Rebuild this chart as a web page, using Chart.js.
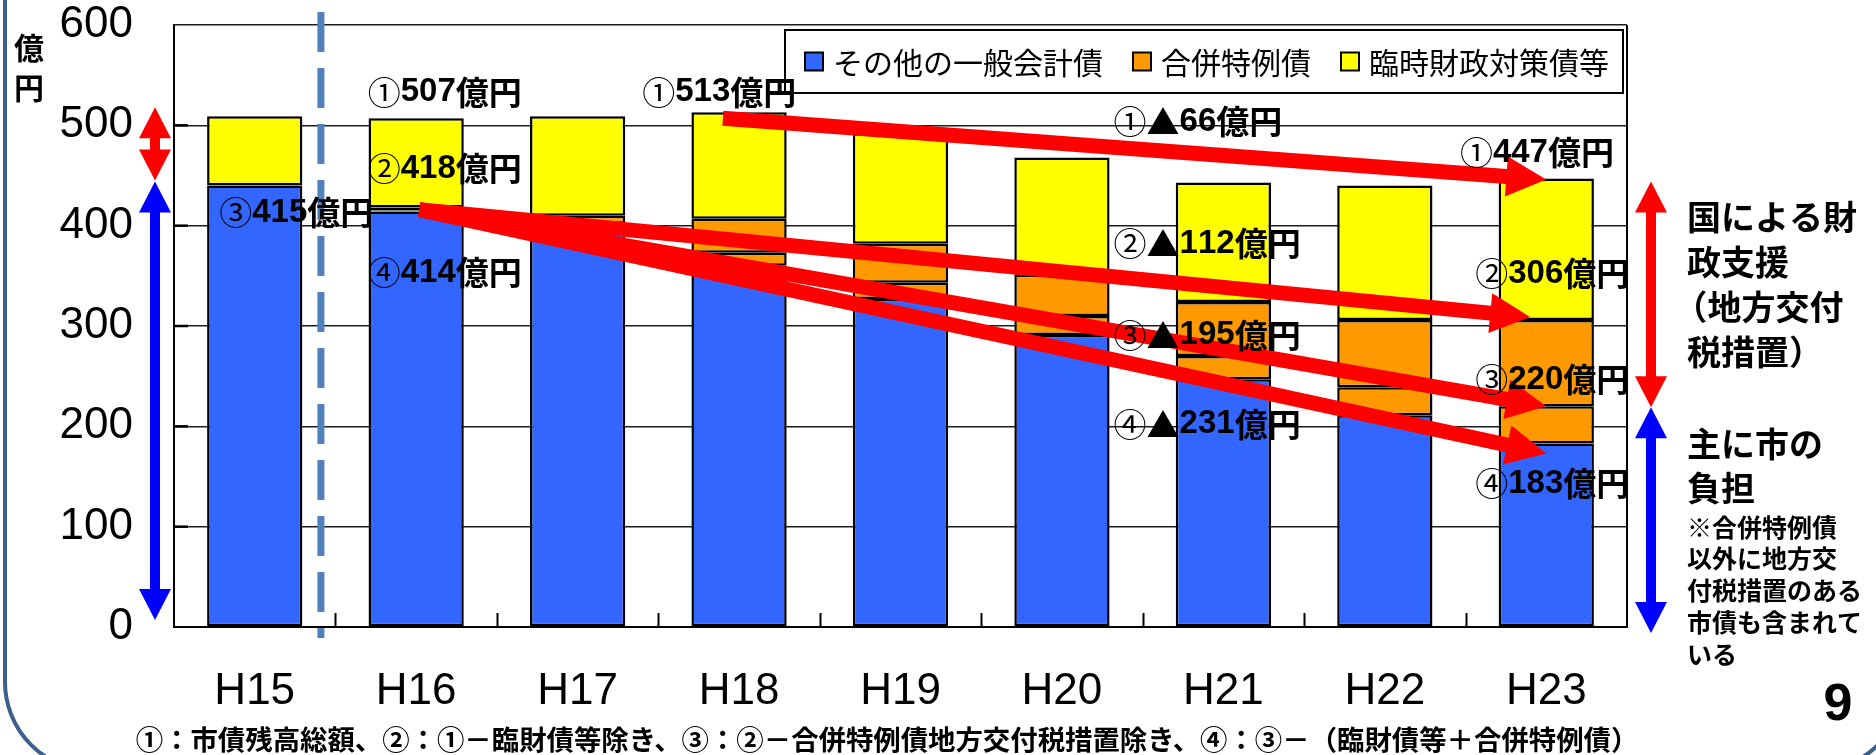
<!DOCTYPE html>
<html lang="ja">
<head>
<meta charset="utf-8">
<title>市債残高の推移</title>
<script src="https://cdn.jsdelivr.net/npm/chart.js@4.4.1/dist/chart.umd.min.js"></script>
<style>
  html, body { margin: 0; padding: 0; background: #fff; overflow: hidden; }
  canvas { display: block; }
</style>
</head>
<body>
<canvas id="debtChart" width="1876" height="755"></canvas>
<script>
// 年度
const categories = ['H15', 'H16', 'H17', 'H18', 'H19', 'H20', 'H21', 'H22', 'H23'];
// ① 市債残高総額（億円）
const totalDebt = [509, 507, 509, 513, 492, 468, 443, 440, 447];
// ② ①－臨財債等
const excludingTemp = [440, 418, 410, 407, 382, 351, 324, 306, 306];
// ③ ②－合併特例債の地方交付税措置分
const excludingAllocated = [440, 415, 402, 373, 343, 310, 270, 239, 220];
// ④ ③－（臨財債等＋合併特例債）
const ownBurden = [440, 414, 398, 360, 327, 291, 247, 211, 183];
// 目盛
const yTicks = [0, 100, 200, 300, 400, 500, 600];

// 積み上げ区分
const otherDebt = ownBurden.slice();
const mergerOwnPart = excludingAllocated.map((v, i) => v - ownBurden[i]);
const mergerAllocatedPart = excludingTemp.map((v, i) => v - excludingAllocated[i]);
const tempFiscalDebt = totalDebt.map((v, i) => v - excludingTemp[i]);

const JP = '"Noto Sans CJK JP", "Noto Sans CJK SC", sans-serif';
const LATIN = '"Liberation Sans", Arial, sans-serif';

// 値ラベル（x は年度の位置、y は億円の位置）
const valueLabels = [
  { text: '①' + totalDebt[1] + '億円', x: 0.70, y: 533 },
  { text: '①' + totalDebt[3] + '億円', x: 2.40, y: 533 },
  { text: '②' + excludingTemp[1] + '億円', x: 0.70, y: 457 },
  { text: '③' + excludingAllocated[1] + '億円', x: -0.22, y: 413 },
  { text: '④' + ownBurden[1] + '億円', x: 0.70, y: 353 },
  { text: '①▲' + (totalDebt[3] - totalDebt[8]) + '億円', x: 5.32, y: 503.5 },
  { text: '②▲' + (excludingTemp[1] - excludingTemp[8]) + '億円', x: 5.32, y: 382 },
  { text: '③▲' + (excludingAllocated[1] - excludingAllocated[8]) + '億円', x: 5.32, y: 291 },
  { text: '④▲' + (ownBurden[1] - ownBurden[8]) + '億円', x: 5.32, y: 202 },
  { text: '①' + totalDebt[8] + '億円', x: 7.465, y: 472.5 },
  { text: '②' + excludingTemp[8] + '億円', x: 7.56, y: 352 },
  { text: '③' + excludingAllocated[8] + '億円', x: 7.56, y: 246.5 },
  { text: '④' + ownBurden[8] + '億円', x: 7.56, y: 143 }
];

// 減少を示す赤矢印
const trendArrows = [
  { from: [2.9, totalDebt[3] - 6], to: [8, totalDebt[8] - 1] },
  { from: [1.02, excludingAllocated[1] + 1], to: [7.9, excludingTemp[8] + 3] },
  { from: [1.02, excludingAllocated[1] + 1], to: [8, excludingAllocated[8]] },
  { from: [1.02, excludingAllocated[1] + 1], to: [8, ownBurden[8] - 10] }
];

// 軸の外側の両矢印（区間は億円）
const spanArrows = [
  { side: 'left', from: 518, to: 445, color: '#FF0000' },
  { side: 'left', from: 444, to: 7, color: '#0000FF' },
  { side: 'right', from: 444, to: 219, color: '#FF0000' },
  { side: 'right', from: 219, to: -6, color: '#0000FF' }
];

const sideNotes = [
  { lines: ['国による財', '政支援', '（地方交付', '税措置）'], top: 217, size: 34, step: 45 },
  { lines: ['主に市の', '負担'], top: 444, size: 34, step: 44 },
  { lines: ['※合併特例債', '以外に地方交', '付税措置のある', '市債も含まれて', 'いる'], top: 527, size: 25, step: 31.8 }
];

const footnote = '①：市債残高総額、②：①－臨財債等除き、③：②－合併特例債地方交付税措置除き、④：③－（臨財債等＋合併特例債）';

function xAt(chart, idx) {
  const s = chart.scales.x;
  const p0 = s.getPixelForValue(0), p1 = s.getPixelForValue(1);
  return p0 + idx * (p1 - p0);
}
function yAt(chart, v) { return chart.scales.y.getPixelForValue(v); }

// 数字は欧文書体、丸数字は細字、その他は和文太字で描く
function fontFor(ch, size) {
  if (/[0-9]/.test(ch)) return 'bold ' + size + 'px ' + LATIN;
  if (/[\u2460-\u2473]/.test(ch)) return size + 'px ' + JP;
  return 'bold ' + size + 'px ' + JP;
}
function drawMixed(ctx, text, x, y, size) {
  let cx = x;
  for (const ch of text) {
    ctx.font = fontFor(ch, size);
    ctx.fillText(ch, cx, y);
    cx += ctx.measureText(ch).width;
  }
}

function arrowPolygon(ctx, ax, ay, bx, by, shaft, headLen, headW, doubleHead) {
  const dx = bx - ax, dy = by - ay;
  const len = Math.hypot(dx, dy);
  const ux = dx / len, uy = dy / len;
  const nx = -uy, ny = ux;
  const pt = (px, py, along, across) => [px + ux * along + nx * across, py + uy * along + ny * across];
  const pts = [];
  if (doubleHead) {
    pts.push([ax, ay]);
    pts.push(pt(ax, ay, headLen, headW / 2));
    pts.push(pt(ax, ay, headLen, shaft / 2));
  } else {
    pts.push(pt(ax, ay, 0, shaft / 2));
  }
  pts.push(pt(bx, by, -headLen, shaft / 2));
  pts.push(pt(bx, by, -headLen, headW / 2));
  pts.push([bx, by]);
  pts.push(pt(bx, by, -headLen, -headW / 2));
  pts.push(pt(bx, by, -headLen, -shaft / 2));
  if (doubleHead) {
    pts.push(pt(ax, ay, headLen, -shaft / 2));
    pts.push(pt(ax, ay, headLen, -headW / 2));
  } else {
    pts.push(pt(ax, ay, 0, -shaft / 2));
  }
  ctx.beginPath();
  pts.forEach((p, i) => (i ? ctx.lineTo(p[0], p[1]) : ctx.moveTo(p[0], p[1])));
  ctx.closePath();
  ctx.fill();
}

const decorPlugin = {
  id: 'decor',
  beforeDraw(chart) {
    const ctx = chart.ctx;
    ctx.save();
    ctx.fillStyle = '#fff';
    ctx.fillRect(0, 0, chart.width, chart.height);
    // スライドの枠
    const fx = 5, fy = -200, fw = 1899, fh = 971, r = 89;
    ctx.strokeStyle = '#3D5F8C';
    ctx.lineWidth = 4;
    ctx.beginPath();
    ctx.moveTo(fx + r, fy);
    ctx.arcTo(fx + fw, fy, fx + fw, fy + fh, r);
    ctx.arcTo(fx + fw, fy + fh, fx, fy + fh, r);
    ctx.arcTo(fx, fy + fh, fx, fy, r);
    ctx.arcTo(fx, fy, fx + fw, fy, r);
    ctx.closePath();
    ctx.stroke();
    ctx.restore();
  },
  afterDatasetsDraw(chart) {
    const ctx = chart.ctx;
    const area = chart.chartArea;
    ctx.save();

    // 右側の枠線
    ctx.strokeStyle = '#000';
    ctx.lineWidth = 2;
    ctx.beginPath();
    ctx.moveTo(area.right, area.top);
    ctx.lineTo(area.right, area.bottom);
    ctx.stroke();

    // 内向きの目盛
    ctx.lineWidth = 2.5;
    yTicks.forEach(v => {
      if (v === 0 || v === yTicks[yTicks.length - 1]) return;
      const y = yAt(chart, v);
      ctx.beginPath();
      ctx.moveTo(area.left, y);
      ctx.lineTo(area.left + 14, y);
      ctx.stroke();
    });
    ctx.lineWidth = 2;
    for (let i = 0; i < categories.length - 1; i++) {
      const x = Math.round(xAt(chart, i + 0.5)) + 0.5;
      ctx.beginPath();
      ctx.moveTo(x, area.bottom);
      ctx.lineTo(x, area.bottom - 14);
      ctx.stroke();
    }

    // 合併前後の区切り（破線）
    ctx.strokeStyle = '#4F81BD';
    ctx.lineWidth = 7;
    ctx.setLineDash([40, 16]);
    ctx.beginPath();
    const dashX = xAt(chart, 0.41);
    ctx.moveTo(dashX, yAt(chart, 613));
    ctx.lineTo(dashX, yAt(chart, -11));
    ctx.stroke();
    ctx.setLineDash([]);

    // 凡例
    const legendItems = chart.data.datasets.filter(d => !d.hideInLegend);
    const lb = { left: area.right - 842, top: area.top + 5, right: area.right - 4, bottom: area.top + 68 };
    ctx.fillStyle = '#fff';
    ctx.fillRect(lb.left, lb.top, lb.right - lb.left, lb.bottom - lb.top);
    ctx.strokeStyle = '#000';
    ctx.lineWidth = 2;
    ctx.strokeRect(lb.left, lb.top, lb.right - lb.left, lb.bottom - lb.top);
    ctx.font = '30px ' + JP;
    ctx.textBaseline = 'middle';
    ctx.textAlign = 'left';
    let lx = lb.left + 20;
    const ly = (lb.top + lb.bottom) / 2;
    legendItems.forEach(d => {
      ctx.fillStyle = d.backgroundColor;
      ctx.fillRect(lx, ly - 9, 18, 18);
      ctx.lineWidth = 2;
      ctx.strokeStyle = '#000';
      ctx.strokeRect(lx, ly - 9, 18, 18);
      ctx.fillStyle = '#000';
      ctx.fillText(d.label, lx + 28, ly + 1);
      lx += 28 + ctx.measureText(d.label).width + 30;
    });

    // 減少を示す矢印
    ctx.fillStyle = '#FF0000';
    trendArrows.forEach(a => {
      arrowPolygon(ctx, xAt(chart, a.from[0]), yAt(chart, a.from[1]),
        xAt(chart, a.to[0]), yAt(chart, a.to[1]), 15, 40, 40, false);
    });

    // 両矢印
    spanArrows.forEach(a => {
      const x = a.side === 'left' ? area.left - 19 : area.right + 24;
      ctx.fillStyle = a.color;
      arrowPolygon(ctx, x, yAt(chart, a.from), x, yAt(chart, a.to), 10, 31, 32, true);
    });

    // 値ラベル
    ctx.fillStyle = '#000';
    ctx.textAlign = 'left';
    ctx.textBaseline = 'middle';
    valueLabels.forEach(l => {
      drawMixed(ctx, l.text, xAt(chart, l.x), yAt(chart, l.y), 33);
    });

    // 右側の説明
    const noteX = area.right + 60;
    sideNotes.forEach(n => {
      ctx.font = 'bold ' + n.size + 'px ' + JP;
      n.lines.forEach((t, i) => {
        const shift = t.startsWith('（') ? -n.size * 0.4 : 0;
        ctx.fillText(t, noteX + shift, n.top + i * n.step);
      });
    });

    // 単位
    ctx.textAlign = 'center';
    ctx.font = 'bold 30px ' + JP;
    ctx.fillText('億', 29, 48);
    ctx.fillText('円', 29, 88);

    // 注記
    ctx.font = 'bold 27.4px ' + JP;
    ctx.fillText(footnote, 887, 740);

    // ページ番号
    ctx.font = 'bold 52px ' + LATIN;
    ctx.fillText('9', 1838, 706);

    ctx.restore();
  }
};

const barStyle = { borderColor: '#000', borderWidth: 2.5, borderSkipped: false };

new Chart(document.getElementById('debtChart'), {
  type: 'bar',
  data: {
    labels: categories,
    datasets: [
      Object.assign({ label: 'その他の一般会計債', data: otherDebt, backgroundColor: '#3366FF' }, barStyle),
      Object.assign({ label: '合併特例債', data: mergerOwnPart, backgroundColor: '#FF9900' }, barStyle),
      Object.assign({ label: '合併特例債', data: mergerAllocatedPart, backgroundColor: '#FF9900', hideInLegend: true }, barStyle),
      Object.assign({ label: '臨時財政対策債等', data: tempFiscalDebt, backgroundColor: '#FFFF00' }, barStyle)
    ]
  },
  options: {
    responsive: false,
    devicePixelRatio: 1,
    animation: false,
    layout: { padding: { top: 25, right: 249, left: 0, bottom: 0 } },
    datasets: { bar: { categoryPercentage: 1, barPercentage: 0.59 } },
    plugins: { legend: { display: false }, tooltip: { enabled: false } },
    scales: {
      x: {
        stacked: true,
        grid: { display: false, drawTicks: false },
        border: { display: true, color: '#000', width: 2 },
        ticks: { color: '#000', padding: 38, font: { family: LATIN, size: 44 } },
        afterFit(scale) { scale.height = 128; }
      },
      y: {
        stacked: true,
        min: 0,
        max: 600,
        afterBuildTicks(scale) { scale.ticks = yTicks.map(v => ({ value: v })); },
        grid: { color: '#1c1c1c', lineWidth: 1.6, drawTicks: false },
        border: { display: true, color: '#000', width: 2 },
        ticks: { color: '#000', padding: 41, font: { family: LATIN, size: 44, lineHeight: 1 } },
        afterFit(scale) {
          scale.width = 174;
          scale.paddingTop = 0;
          scale.paddingBottom = 0;
        }
      }
    }
  },
  plugins: [decorPlugin]
});
</script>
</body>
</html>
